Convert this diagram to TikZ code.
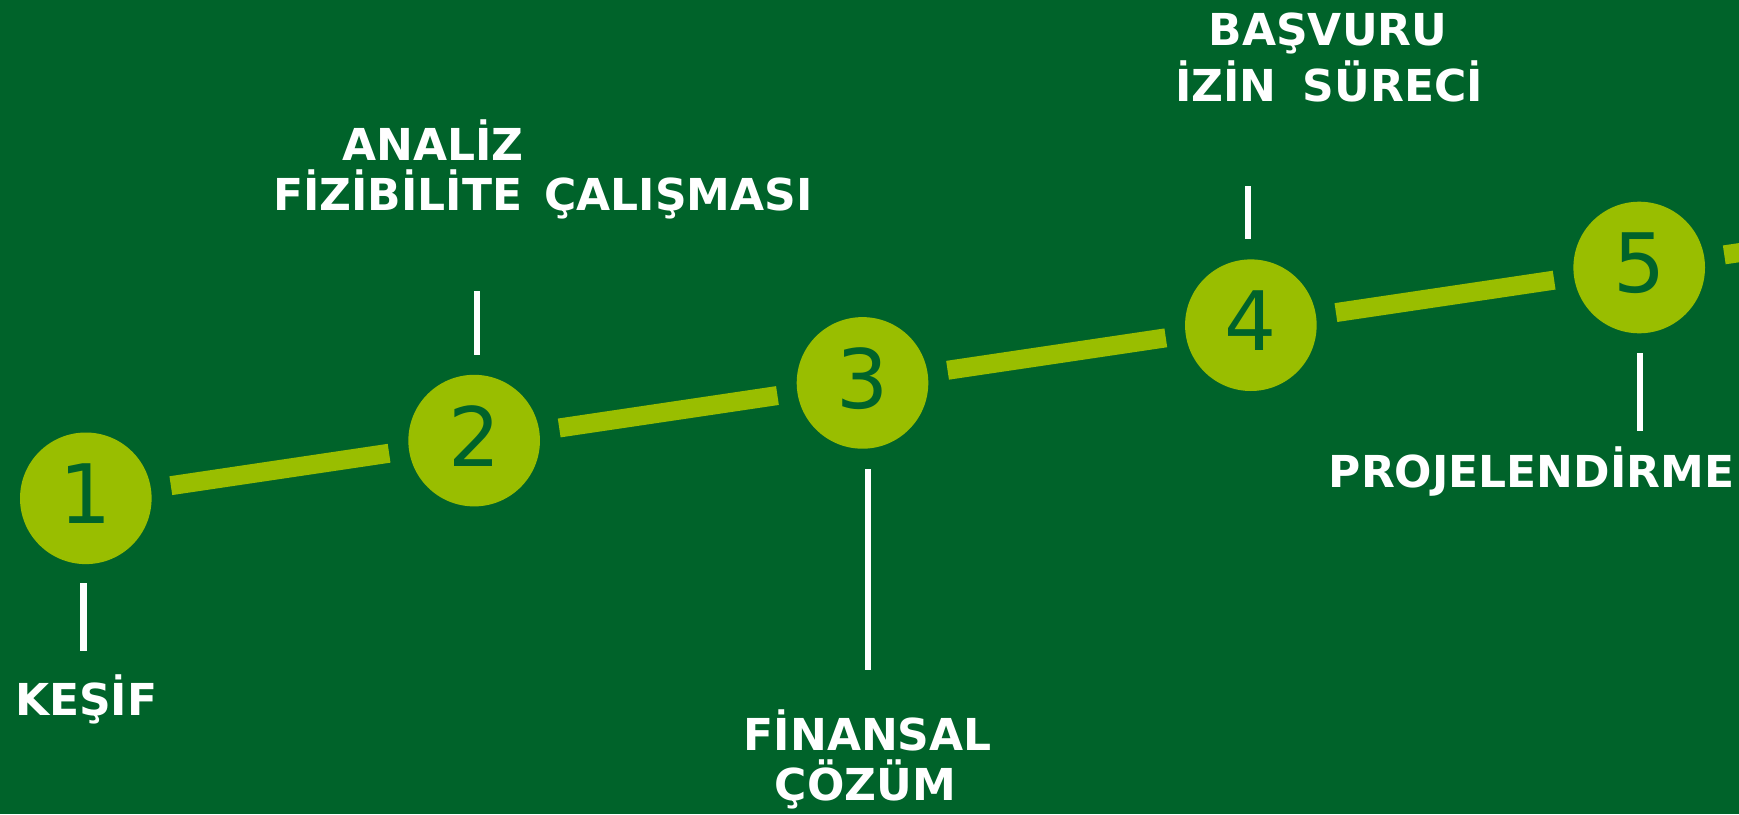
\documentclass[tikz,border=0pt]{standalone}
\usepackage{fontspec}
\setmainfont{DejaVu Sans}
\usetikzlibrary{calc}
\definecolor{bgG}{RGB}{0,99,42}
\definecolor{limeG}{RGB}{153,190,0}
\begin{document}
\begin{tikzpicture}[x=1pt,y=-1pt,
  stepdot/.style={circle, fill=limeG, minimum size=131.6pt, inner sep=0pt, text=bgG,
    font=\fontsize{82}{82}\selectfont, text height=59.8pt, text depth=9pt},
  link/.style={draw=limeG, line width=19pt},
  tick/.style={draw=white, line width=6.5pt},
  lbl/.style={text=white, font=\fontsize{44}{44}\selectfont\bfseries, inner sep=0pt, anchor=base}]
\useasboundingbox (0,0) rectangle (1739,814);
\clip (0,0) rectangle (1739,814);
\fill[bgG] (0,0) rectangle (1739,814);

% circles
\node[stepdot] (c1) at (85.8,498.3) {1};
\node[stepdot] (c2) at (474.15,440.6) {2};
\node[stepdot] (c3) at (862.5,382.9) {3};
\node[stepdot] (c4) at (1250.85,325.2) {4};
\node[stepdot] (c5) at (1639.2,267.5) {5};
\coordinate (c6) at (2027.55,209.8);

% links
\draw[link] ($(c1.center)!86pt!(c2.center)$) -- ($(c2.center)!86pt!(c1.center)$);
\draw[link] ($(c2.center)!86pt!(c3.center)$) -- ($(c3.center)!86pt!(c2.center)$);
\draw[link] ($(c3.center)!86pt!(c4.center)$) -- ($(c4.center)!86pt!(c3.center)$);
\draw[link] ($(c4.center)!86pt!(c5.center)$) -- ($(c5.center)!86pt!(c4.center)$);
\draw[link] ($(c5.center)!86pt!(c6)$) -- (c6);

% ticks
\coordinate (t1a) at (83.7,583);   \coordinate (t1b) at (83.7,650.7);
\coordinate (t2a) at (476.8,291);  \coordinate (t2b) at (476.8,355);
\coordinate (t3a) at (867.8,469);  \coordinate (t3b) at (867.8,670);
\coordinate (t4a) at (1247.8,186); \coordinate (t4b) at (1247.8,239.3);
\coordinate (t5a) at (1640.2,353.3); \coordinate (t5b) at (1640.2,430.7);
\draw[tick] (t1a) -- (t1b);
\draw[tick] (t2a) -- (t2b);
\draw[tick] (t3a) -- (t3b);
\draw[tick] (t4a) -- (t4b);
\draw[tick] (t5a) -- (t5b);

% labels
\node[lbl] (l1) at (86.2,715) {KEŞİF};
\node[lbl] (l2a) at (432.9,160) {ANALİZ};
\node[lbl] (l2b) at (543,210) {FİZİBİLİTE\hspace{0.5em}ÇALIŞMASI};
\node[lbl] (l3a) at (867.8,750) {FİNANSAL};
\node[lbl] (l3b) at (865.5,800) {ÇÖZÜM};
\node[lbl] (l4a) at (1328,45) {BAŞVURU};
\node[lbl] (l4b) at (1329,101.7) {İZİN\hspace{0.6em}SÜRECİ};
\node[lbl] (l5) at (1531.5,487.3) {PROJELENDİRME};
\end{tikzpicture}
\end{document}
